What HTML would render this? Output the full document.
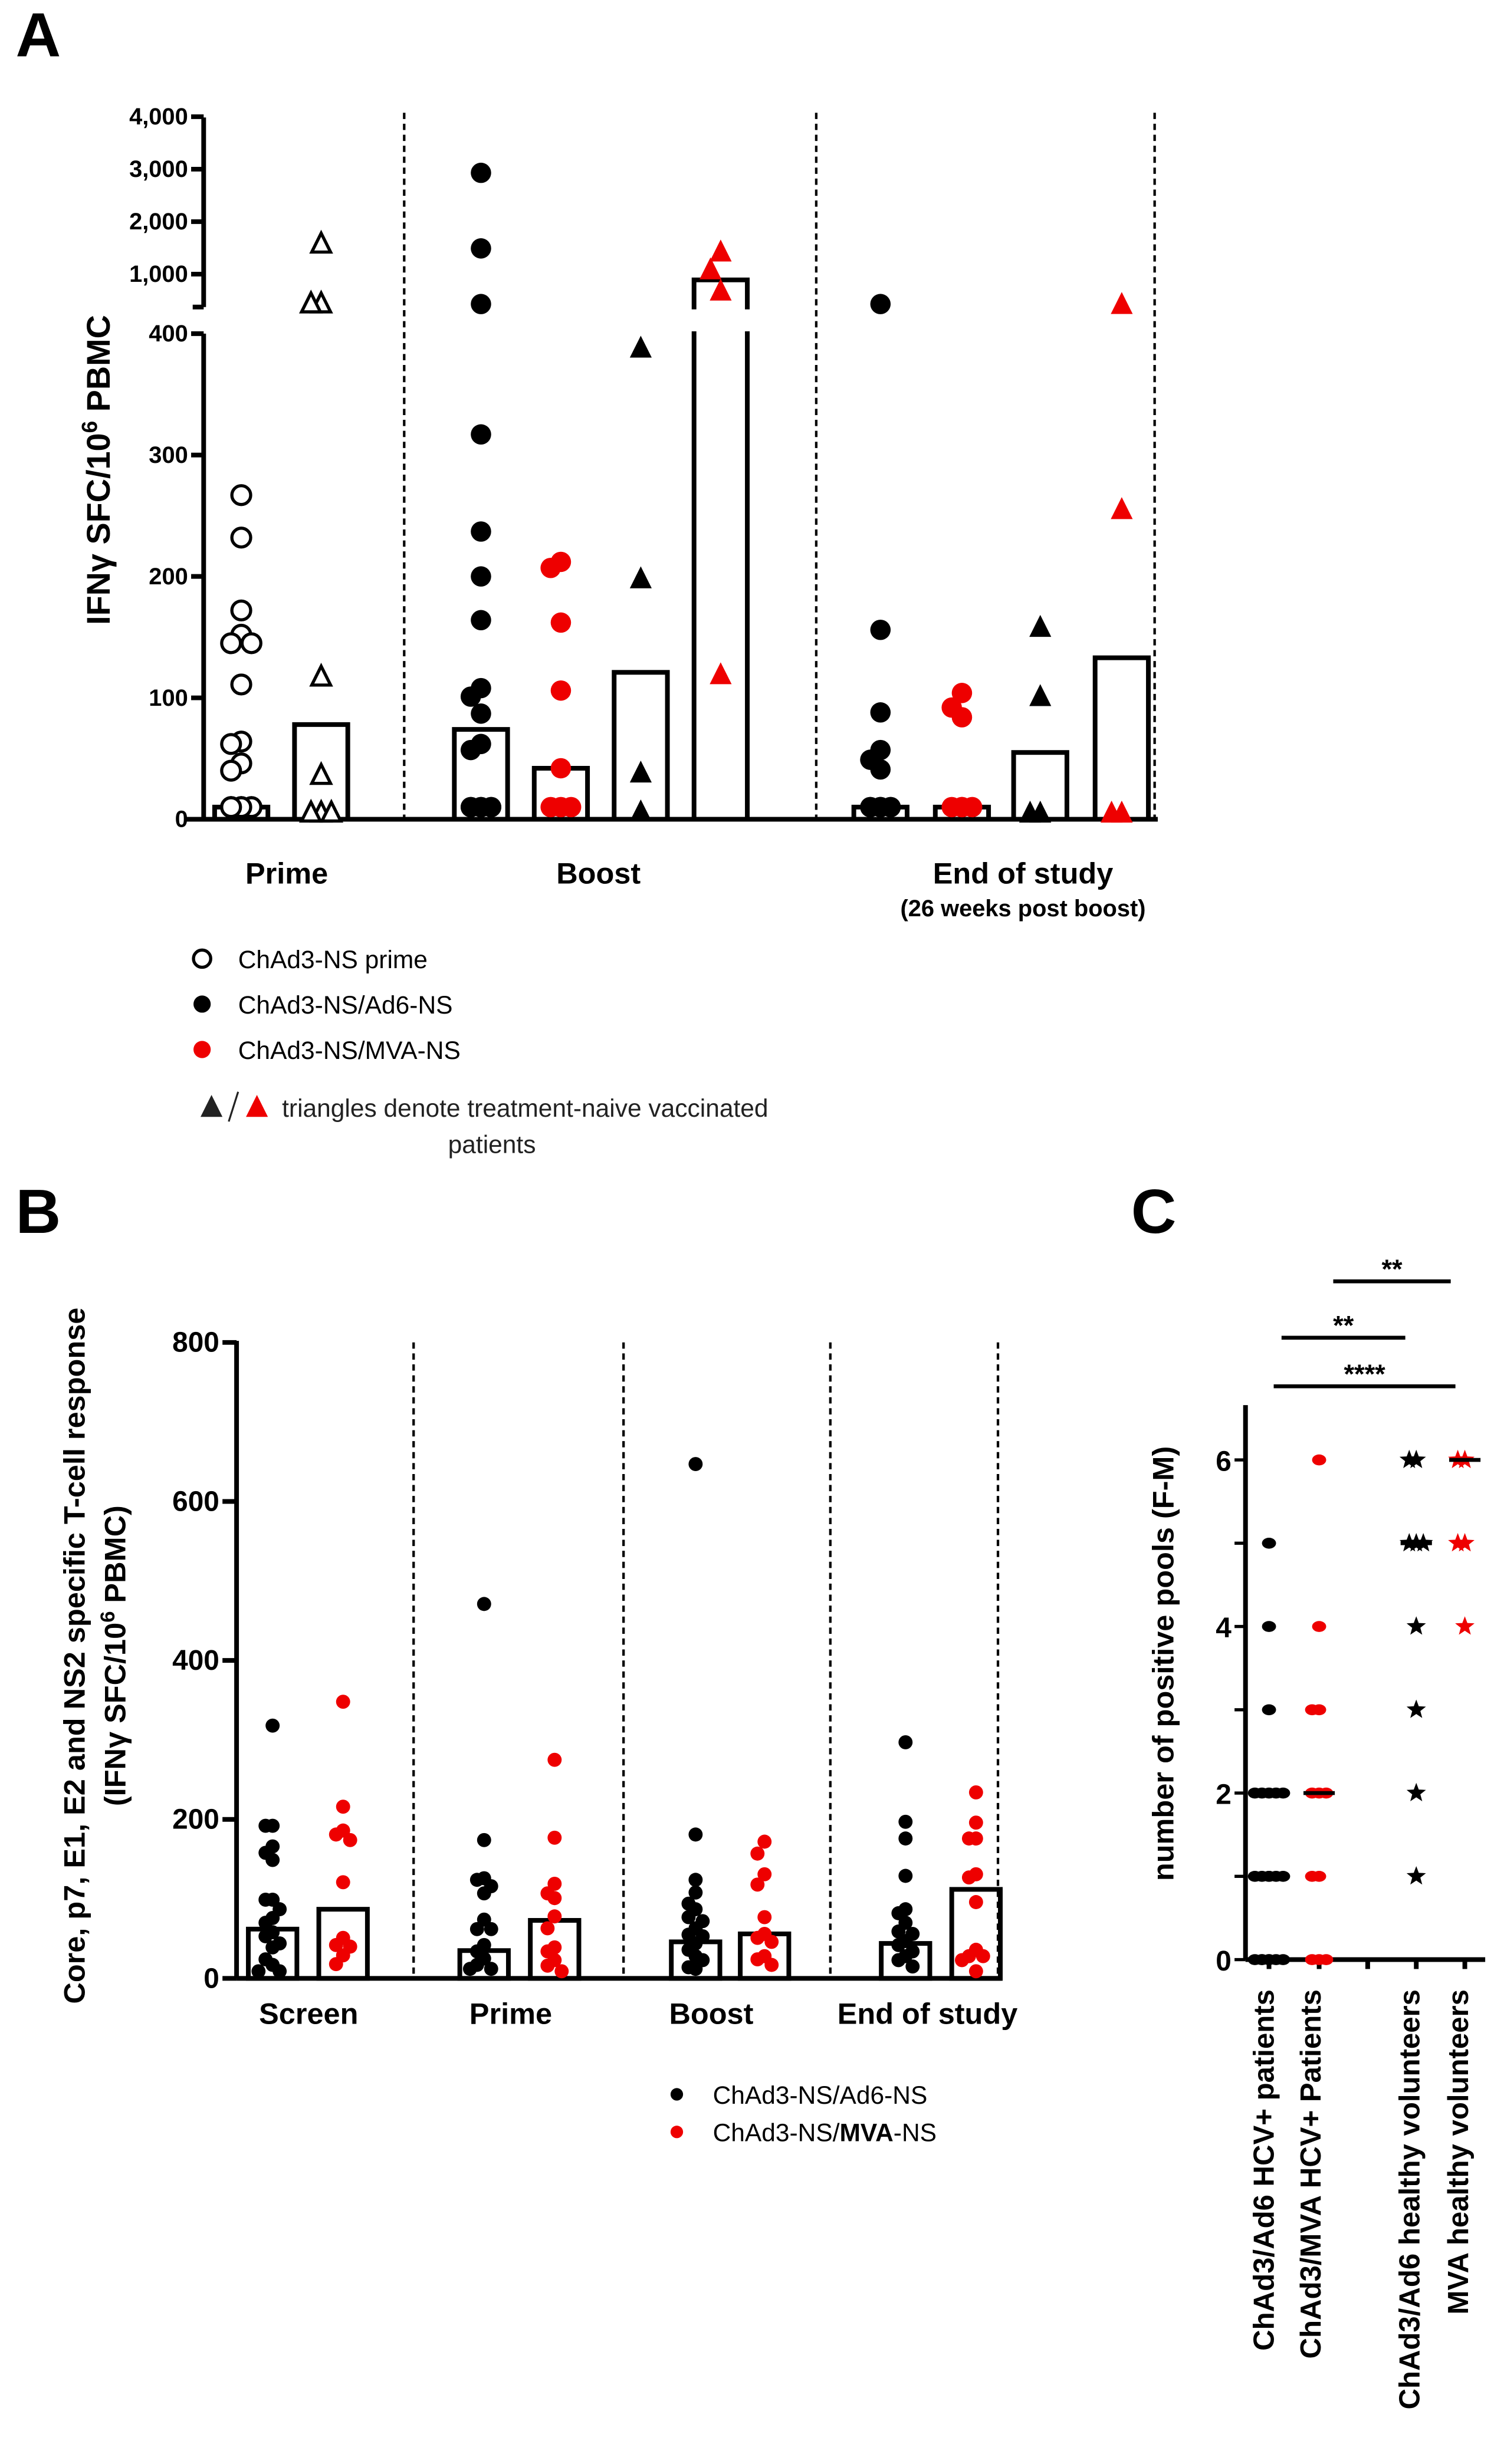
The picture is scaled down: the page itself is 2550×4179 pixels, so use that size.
<!DOCTYPE html>
<html><head><meta charset="utf-8"><style>
html,body{margin:0;padding:0;background:#fff;width:2550px;height:4179px;overflow:hidden}
svg{display:block}
text{font-family:"Liberation Sans",sans-serif}
.b{font-weight:bold}
</style></head><body>
<svg id="fig" width="2550" height="4179" viewBox="0 0 960 1573" preserveAspectRatio="none" xmlns="http://www.w3.org/2000/svg">
<g id="gA"></g>
<g id="gB"></g>
<g id="gC"></g>
</svg>
<script>
// ---------- Panel A data ----------
const aGroupNames = ["prime-open-circle","prime-open-tri","boost-black-circle","boost-red-circle","boost-black-tri","boost-red-tri","end-black-circle","end-red-circle","end-black-tri","end-red-tri"];
const aCenters = [154,205,307,358,409,460,562,614,664,716];
const aShapes = ["ocircle","otri","circle","circle","tri","tri","circle","circle","tri","tri"];
const aColors = ["#000","#000","#000","#e00","#000","#e00","#000","#e00","#000","#e00"];
const aBars = [10,78,74,42,121,890,10,10,55,133];
const aPrimeCircles = [267,232,172,152,145,145,111,64,62,46,40,10,10,10,10,10,10,10,10];
const aPrimeTris = [1570,430,430,117,36,5,5,5];
const aBoostBlack = [2930,1490,430,317,237,200,164,108,101,87,62,57,10,10,10,10,10,10];
const aBoostRed = [212,207,162,106,42,10,10,10];
const aBoostBlackTri = [388,198,38,6];
const aBoostRedTri = [1420,1080,675,119];
const aEndBlack = [430,156,88,57,49,41,10,10,10,10,10,10,10];
const aEndRed = [104,92,84,10,10,10,10];
const aEndBlackTri = [158,101,5,5];
const aEndRedTri = [420,255,5,5];
const aSeries = [aPrimeCircles,aPrimeTris,aBoostBlack,aBoostRed,aBoostBlackTri,aBoostRedTri,aEndBlack,aEndRed,aEndBlackTri,aEndRedTri];
const aLowTicks = [0,100,200,300,400];
const aLowTickLabels = ["0","100","200","300","400"];
const aHighTicks = [1000,2000,3000,4000];
const aHighTickLabels = ["1,000","2,000","3,000","4,000"];

// ---------- Panel B data ----------
const bCategories = ["Screen","Prime","Boost","End of study"];
const bBlackBars = [62,35,46,44];
const bRedBars = [87,73,56,112];
const bScreenBlack = [318,192,192,166,158,149,99,99,87,76,70,58,53,44,39,24,17,9,9];
const bScreenRed = [348,216,186,181,174,121,51,42,40,29,18];
const bPrimeBlack = [471,174,126,124,116,107,74,62,62,42,34,25,17,12,12];
const bPrimeRed = [275,177,119,107,101,78,63,39,34,23,16,9];
const bBoostBlack = [647,181,124,108,94,87,77,72,63,55,53,44,36,28,23,14,12];
const bBoostRed = [172,157,131,118,77,56,51,46,28,24,17];
const bEndBlack = [297,197,176,129,87,82,70,59,56,47,42,34,28,23,15];
const bEndRed = [234,196,176,176,131,127,96,36,28,28,23,9];
const bBlackSeries = [bScreenBlack,bPrimeBlack,bBoostBlack,bEndBlack];
const bRedSeries = [bScreenRed,bPrimeRed,bBoostRed,bEndRed];
const bTicks = [0,200,400,600,800];
const bTickLabels = ["0","200","400","600","800"];

// ---------- Panel C data ----------
const cCategories = ["ChAd3/Ad6 HCV+ patients","ChAd3/MVA HCV+ Patients","","ChAd3/Ad6 healthy volunteers","MVA healthy volunteers"];
const cAd6Patients = [5,4,3,2,2,2,2,2,1,1,1,1,1,1,0,0,0,0,0,0,0];
const cMvaPatients = [6,4,3,3,2,2,2,1,1,0,0,0];
const cAd6Healthy = [6,6,5,5,5,4,3,2,1];
const cMvaHealthy = [6,6,5,5,4];
const cMedians = [1,2,null,5,6];
const cTicks = [0,2,4,6];
const cTickLabels = ["0","2","4","6"];
const cSigFrom = [1,0,0];
const cSigTo = [4,3,4];
const cSigLabels = ["**","**","****"];

const NS="http://www.w3.org/2000/svg";
function mk(parent,tag,attrs,txt){const e=document.createElementNS(NS,tag);for(const k in attrs)e.setAttribute(k,attrs[k]);if(txt!==undefined)e.textContent=txt;parent.appendChild(e);return e;}
function swarm(vals,yf,cx,d,maxS){
  const placed=[];const out=[];const step=d*0.5;
  const offs=[0];for(let k=1;k*step<=maxS+0.01;k++){offs.push(-k*step,k*step);}
  vals.forEach(v=>{const y=yf(v);let best=cx,bc=1e9;
    for(const o of offs){const x=cx+o;const c=placed.filter(p=>Math.abs(p[0]-x)<d*0.45&&Math.abs(p[1]-y)<d*0.9).length;if(c<bc){bc=c;best=x;}if(c===0)break;}
    placed.push([best,y]);out.push([best,y,v]);});
  return out;
}
function starPts(cx,cy,R){let s="";for(let i=0;i<10;i++){const r=i%2?R*0.42:R;const a=-Math.PI/2+i*Math.PI/5;s+=(cx+r*Math.cos(a)).toFixed(2)+","+(cy+r*Math.sin(a)).toFixed(2)+" ";}return s;}

// ================= PANEL A =================
(function(){
const g=document.getElementById("gA");
const t=mk(g,"text",{x:10,y:36,"font-size":40,class:"b"},"A");


const X0=130, Y0=523;
function yA(v){return v<=400? Y0 - v*0.775 : 175-(v-1000)*0.0335;}
[258,521,737].forEach(x=>{const l=mk(g,"line",{x1:x,y1:72,x2:x,y2:523,stroke:"#000","stroke-width":1.6,"stroke-dasharray":"4,3"});

});
const ax=mk(g,"g",{});


mk(ax,"line",{x1:X0,y1:75,x2:X0,y2:196,stroke:"#000","stroke-width":3});
mk(ax,"line",{x1:X0,y1:213,x2:X0,y2:Y0,stroke:"#000","stroke-width":3});
mk(ax,"line",{x1:123,y1:196,x2:X0,y2:196,stroke:"#000","stroke-width":3});
aLowTicks.forEach((v,i)=>{mk(ax,"line",{x1:122,y1:yA(v),x2:X0,y2:yA(v),stroke:"#000","stroke-width":3});
 const tl=mk(ax,"text",{x:120,y:yA(v)+5,"font-size":15,class:"b","text-anchor":"end"},aLowTickLabels[i]);
 
 });
aHighTicks.forEach((v,i)=>{mk(ax,"line",{x1:122,y1:yA(v),x2:X0,y2:yA(v),stroke:"#000","stroke-width":3});
 const tl=mk(ax,"text",{x:120,y:yA(v)+5,"font-size":15,class:"b","text-anchor":"end"},aHighTickLabels[i]);
 
 });
const xa=mk(g,"line",{x1:118,y1:Y0,x2:739,y2:Y0,stroke:"#000","stroke-width":3});


const yt=mk(g,"text",{x:0,y:0,"font-size":21,class:"b","text-anchor":"middle",transform:"translate(70,300) rotate(-90)"});


yt.innerHTML='IFNγ SFC/10<tspan font-size="14" dy="-8">6</tspan><tspan dy="8"> PBMC</tspan>';
aBars.forEach((v,i)=>{const cx=aCenters[i];const r=mk(g,"rect",{x:cx-17,y:yA(v),width:34,height:Y0-yA(v),fill:"#fff",stroke:"#000","stroke-width":3});
 
 
 if(v>400){mk(g,"rect",{x:cx-20,y:197.5,width:40,height:14,fill:"#fff"});}});
aSeries.forEach((vals,i)=>{const shape=aShapes[i],col=aColors[i];
 swarm(vals,yA,aCenters[i],13,12).forEach(p=>{let e;const [x,y]=p;
  if(shape==="ocircle") e=mk(g,"circle",{cx:x,cy:y,r:6,fill:"#fff",stroke:"#000","stroke-width":2});
  else if(shape==="circle") e=mk(g,"circle",{cx:x,cy:y,r:6.5,fill:col});
  else if(shape==="otri") e=mk(g,"polygon",{points:`${x},${y-7} ${x-6},${y+5} ${x+6},${y+5}`,fill:"#fff",stroke:"#000","stroke-width":2});
  else e=mk(g,"polygon",{points:`${x},${y-8} ${x-7},${y+6} ${x+7},${y+6}`,fill:col});
  
  });});
[["Prime",183,564],["Boost",382,564],["End of study",653,564]].forEach(a=>{const l=mk(g,"text",{x:a[1],y:a[2],"font-size":19,class:"b","text-anchor":"middle"},a[0]);
 
 });
const sub=mk(g,"text",{x:653,y:585,"font-size":15,class:"b","text-anchor":"middle"},"(26 weeks post boost)");


const lg=mk(g,"g",{});


mk(lg,"circle",{cx:129,cy:612,r:5.5,fill:"#fff",stroke:"#000","stroke-width":2});
mk(lg,"text",{x:152,y:618,"font-size":16},"ChAd3-NS prime");
mk(lg,"circle",{cx:129,cy:641,r:5.5,fill:"#000"});
mk(lg,"text",{x:152,y:647,"font-size":16},"ChAd3-NS/Ad6-NS");
mk(lg,"circle",{cx:129,cy:670,r:5.5,fill:"#e00"});
mk(lg,"text",{x:152,y:676,"font-size":16},"ChAd3-NS/MVA-NS");
mk(lg,"polygon",{points:"135,699 128,713 142,713",fill:"#222"});
mk(lg,"line",{x1:152,y1:697,x2:146,y2:716,stroke:"#222","stroke-width":1.2});
mk(lg,"polygon",{points:"164,699 157,713 171,713",fill:"#e00"});
mk(lg,"text",{x:180,y:713,"font-size":16,fill:"#222"},"triangles denote treatment-naive vaccinated");
mk(lg,"text",{x:314,y:736,"font-size":16,fill:"#222","text-anchor":"middle"},"patients");
})();

// ================= PANEL B =================
(function(){
const g=document.getElementById("gB");
const t=mk(g,"text",{x:10,y:787,"font-size":40,class:"b"},"B");


const X0=151,Y0=1263;
function yB(v){return Y0-v*(406/800);}
const centers=[[174,219],[309,354],[444,488],[578,623]];
const labelX=[197,326,454,592];
[264,398,530,637].forEach(x=>{const l=mk(g,"line",{x1:x,y1:857,x2:x,y2:Y0,stroke:"#000","stroke-width":1.6,"stroke-dasharray":"4,3"});
 
 });
const ax=mk(g,"g",{});


mk(ax,"line",{x1:X0,y1:856,x2:X0,y2:Y0,stroke:"#000","stroke-width":3});
bTicks.forEach((v,i)=>{mk(ax,"line",{x1:142,y1:yB(v),x2:X0,y2:yB(v),stroke:"#000","stroke-width":3});
 const tl=mk(ax,"text",{x:140,y:yB(v)+6,"font-size":18,class:"b","text-anchor":"end"},bTickLabels[i]);
 
 });
const xa=mk(g,"line",{x1:X0,y1:Y0,x2:639,y2:Y0,stroke:"#000","stroke-width":3});


const yt1=mk(g,"text",{x:0,y:0,"font-size":19,class:"b","text-anchor":"middle",transform:"translate(54,1057) rotate(-90)"},"Core, p7, E1, E2 and NS2 specific T-cell response");


const yt2=mk(g,"text",{x:0,y:0,"font-size":19,class:"b","text-anchor":"middle",transform:"translate(80,1057) rotate(-90)"});


yt2.innerHTML='(IFNγ SFC/10<tspan font-size="13" dy="-7">6</tspan><tspan dy="7"> PBMC)</tspan>';
bCategories.forEach((c,i)=>{
 [[bBlackBars,bBlackSeries,"#000","black"],[bRedBars,bRedSeries,"#e00","red"]].forEach((s,j)=>{
  const cx=centers[i][j];const v=s[0][i];
  const r=mk(g,"rect",{x:cx-15.5,y:yB(v),width:31,height:Y0-yB(v),fill:"none",stroke:"#000","stroke-width":3});
  
  
  swarm(s[1][i],yB,cx,9,10).forEach(p=>{const e=mk(g,"circle",{cx:p[0],cy:p[1],r:4.5,fill:s[2]});
   
   });
 });
 const l=mk(g,"text",{x:labelX[i],y:1292,"font-size":19,class:"b","text-anchor":"middle"},c);
 
 
});
const lg=mk(g,"g",{});


mk(lg,"circle",{cx:432,cy:1337,r:4,fill:"#000"});
mk(lg,"text",{x:455,y:1343,"font-size":16},"ChAd3-NS/Ad6-NS");
mk(lg,"circle",{cx:432,cy:1361,r:4,fill:"#e00"});
const rt=mk(lg,"text",{x:455,y:1367,"font-size":16});
rt.innerHTML='ChAd3-NS/<tspan font-weight="bold">MVA</tspan>-NS';
})();

// ================= PANEL C =================
(function(){
const g=document.getElementById("gC");
const t=mk(g,"text",{x:722,y:787,"font-size":40,class:"b"},"C");


const X0=795,Y0=1251;
function yC(v){return Y0-v*((1251-932)/6);}
const cols=[810,842,873,904,935];
const ax=mk(g,"g",{});


mk(ax,"line",{x1:X0,y1:897,x2:X0,y2:Y0,stroke:"#000","stroke-width":3});
[0,1,2,3,4,5,6].forEach(v=>mk(ax,"line",{x1:788,y1:yC(v),x2:X0,y2:yC(v),stroke:"#000","stroke-width":2}));
cTicks.forEach((v,i)=>{const tl=mk(ax,"text",{x:786,y:yC(v)+7,"font-size":18,class:"b","text-anchor":"end"},cTickLabels[i]);
 
 });
const xa=mk(g,"line",{x1:X0,y1:Y0,x2:948,y2:Y0,stroke:"#000","stroke-width":3});


cols.forEach(x=>mk(g,"line",{x1:x,y1:Y0,x2:x,y2:Y0+6,stroke:"#000","stroke-width":3}));
const yt=mk(g,"text",{x:0,y:0,"font-size":19,class:"b","text-anchor":"middle",transform:"translate(749,1062) rotate(-90)"},"number of positive pools (F-M)");


const series=[[cAd6Patients,"circle","#000"],[cMvaPatients,"circle","#e00"],null,[cAd6Healthy,"star","#000"],[cMvaHealthy,"star","#e00"]];
series.forEach((s,i)=>{if(!s)return;
 swarm(s[0],yC,cols[i],9,9).forEach(p=>{let e;
  if(s[1]==="circle") e=mk(g,"ellipse",{cx:p[0],cy:p[1],rx:4.5,ry:3.5,fill:s[2]});
  else e=mk(g,"polygon",{points:starPts(p[0],p[1],6.5),fill:s[2]});
  
  });
 if(cMedians[i]!==null){const m=mk(g,"line",{x1:cols[i]-10,y1:yC(cMedians[i]),x2:cols[i]+10,y2:yC(cMedians[i]),stroke:"#000","stroke-width":2.5});
  
  }
});
const sigY=[818,854,885];
const sigX1=[851,818,813],sigX2=[926,897,929];
cSigLabels.forEach((s,i)=>{const sg=mk(g,"g",{});
 
 
 mk(sg,"line",{x1:sigX1[i],y1:sigY[i],x2:sigX2[i],y2:sigY[i],stroke:"#000","stroke-width":2.5});
 mk(sg,"text",{x:(sigX1[i]+sigX2[i])/2,y:sigY[i]-2,"font-size":17,class:"b","text-anchor":"middle"},s);});
[813,843,null,906,937].forEach((x,i)=>{if(x===null)return;
 const l=mk(g,"text",{x:0,y:0,"font-size":18.5,class:"b","text-anchor":"end",transform:`translate(${x},1270) rotate(-90)`},cCategories[i]);
 
 });
})();
</script>
</body></html>
